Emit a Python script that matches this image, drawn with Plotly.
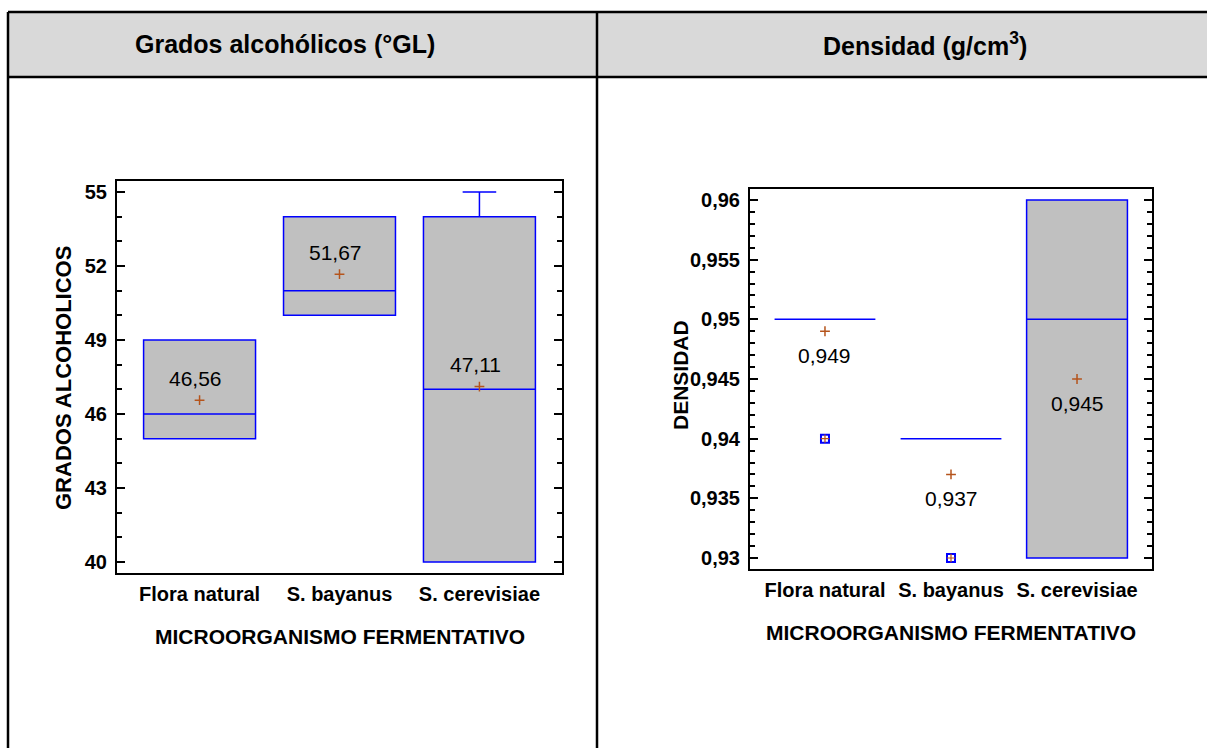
import plotly.graph_objects as go

# ---- data ----
categories = ["Flora natural", "S. bayanus", "S. cerevisiae"]

# Grados alcohólicos (°GL)
gl_min = [45, 50, 40]
gl_q1 = [45, 50, 40]
gl_median = [46, 51, 47]
gl_q3 = [49, 54, 54]
gl_max = [49, 54, 55]
gl_mean = [46.56, 51.67, 47.11]

# Densidad (g/cm3)
den_min = [0.95, 0.94, 0.93]
den_q1 = [0.95, 0.94, 0.93]
den_median = [0.95, 0.94, 0.95]
den_q3 = [0.95, 0.94, 0.96]
den_max = [0.95, 0.94, 0.96]
den_mean = [0.949, 0.937, 0.945]
den_out_cat = [0, 1]
den_out_val = [0.94, 0.93]

W, H = 1207, 748
FONT = "Arial, Liberation Sans, sans-serif"
BOX_FILL = "#c0c0c0"
BOX_LINE = "#0000ff"
MEAN_COL = "#b5541c"


def px_x(p):
    return p / W


def px_y(p):
    return 1 - p / H


fig = go.Figure()
xpos = list(range(len(categories)))

# left panel boxes
fig.add_trace(go.Box(
    x=xpos, q1=gl_q1, median=gl_median, q3=gl_q3,
    lowerfence=gl_min, upperfence=gl_max,
    width=0.8, whiskerwidth=0.3, boxpoints=False,
    fillcolor=BOX_FILL, line=dict(color=BOX_LINE, width=1.5),
    xaxis="x", yaxis="y", showlegend=False, hoverinfo="skip",
))
fig.add_trace(go.Scatter(
    x=xpos, y=gl_mean, mode="markers",
    marker=dict(symbol="cross-thin", size=7, line=dict(color=MEAN_COL, width=1.5)),
    xaxis="x", yaxis="y", showlegend=False, hoverinfo="skip",
))

# right panel boxes
fig.add_trace(go.Box(
    x=xpos, q1=den_q1, median=den_median, q3=den_q3,
    lowerfence=den_min, upperfence=den_max,
    width=0.8, whiskerwidth=0.3, boxpoints=False,
    fillcolor=BOX_FILL, line=dict(color=BOX_LINE, width=1.5),
    xaxis="x2", yaxis="y2", showlegend=False, hoverinfo="skip",
))
fig.add_trace(go.Scatter(
    x=den_out_cat, y=den_out_val, mode="markers",
    marker=dict(symbol="square-open", size=8, line=dict(color=BOX_LINE, width=2), color=BOX_LINE),
    xaxis="x2", yaxis="y2", showlegend=False, hoverinfo="skip",
))
fig.add_trace(go.Scatter(
    x=den_out_cat, y=den_out_val, mode="markers",
    marker=dict(symbol="cross-thin", size=6, line=dict(color=MEAN_COL, width=1.2)),
    xaxis="x2", yaxis="y2", showlegend=False, hoverinfo="skip",
))
fig.add_trace(go.Scatter(
    x=xpos, y=den_mean, mode="markers",
    marker=dict(symbol="cross-thin", size=7, line=dict(color=MEAN_COL, width=1.5)),
    xaxis="x2", yaxis="y2", showlegend=False, hoverinfo="skip",
))


def note(x, y, text, size, bold=True, angle=0):
    return dict(
        x=px_x(x), y=px_y(y), xref="paper", yref="paper", text=text,
        xanchor="center", yanchor="middle", textangle=angle, showarrow=False,
        font=dict(family=FONT, size=size, color="black", weight="bold" if bold else "normal"),
    )


annotations = []
for i, m in enumerate(gl_mean):
    annotations.append(dict(
        x=i, y=m, xref="x", yref="y", text=f"{m:.2f}".replace(".", ","),
        xanchor="center", yanchor="middle",
        showarrow=False, xshift=-4, yshift=22, font=dict(family=FONT, size=21, color="black"),
    ))
for i, m in enumerate(den_mean):
    annotations.append(dict(
        x=i, y=m, xref="x2", yref="y2", text=f"{m:.3f}".replace(".", ","),
        xanchor="center", yanchor="middle",
        showarrow=False, yshift=-24, font=dict(family=FONT, size=21, color="black"),
    ))

# axis titles and header cells
annotations += [
    note(63, 378, "GRADOS ALCOHOLICOS", 22, angle=-90),
    note(340, 636, "MICROORGANISMO FERMENTATIVO", 21),
    note(680, 375, "DENSIDAD", 21, angle=-90),
    note(951, 632, "MICROORGANISMO FERMENTATIVO", 21),
    note(285, 44, "Grados alcohólicos (°GL)", 25),
    note(925, 44, "Densidad (g/cm<sup>3</sup>)", 25),
]

# table frame
LW = 2.5
shapes = [
    dict(type="rect", xref="paper", yref="paper", x0=px_x(8), x1=1.05, y0=px_y(77), y1=px_y(12),
         fillcolor="#d9d9d9", line=dict(width=0), layer="below"),
    dict(type="line", xref="paper", yref="paper", x0=px_x(8), x1=1.05, y0=px_y(12), y1=px_y(12),
         line=dict(color="black", width=LW)),
    dict(type="line", xref="paper", yref="paper", x0=px_x(8), x1=1.05, y0=px_y(77), y1=px_y(77),
         line=dict(color="black", width=LW)),
    dict(type="line", xref="paper", yref="paper", x0=px_x(8), x1=px_x(8), y0=px_y(12), y1=-0.05,
         line=dict(color="black", width=LW)),
    dict(type="line", xref="paper", yref="paper", x0=px_x(597), x1=px_x(597), y0=px_y(12), y1=-0.05,
         line=dict(color="black", width=LW)),
]

tickfont = dict(family=FONT, size=20, color="black", weight="bold")
catfont = dict(family=FONT, size=20, color="black", weight="bold")

common_x = dict(
    tickvals=xpos, ticktext=categories, ticks="",
    showline=True, linecolor="black", linewidth=2, mirror=True,
    showgrid=False, zeroline=False, tickfont=catfont, ticklabelstandoff=2,
)
common_y = dict(
    ticks="inside", ticklen=8, tickwidth=1.5, tickcolor="black",
    showline=True, linecolor="black", linewidth=2, mirror="allticks",
    showgrid=False, zeroline=False, tickfont=tickfont, ticklabelstandoff=4,
)

fig.update_layout(
    width=W, height=H, margin=dict(l=0, r=0, t=0, b=0),
    paper_bgcolor="white", plot_bgcolor="white",
    separators=",.",
    boxmode="overlay",
    xaxis=dict(domain=[px_x(117), px_x(562)], range=[-0.59, 2.59], anchor="y", **common_x),
    yaxis=dict(domain=[px_y(573), px_y(181)], range=[39.554, 55.446], anchor="x",
               tickmode="linear", tick0=40, dtick=3,
               minor=dict(dtick=1, ticks="inside", ticklen=5, tickcolor="black", tickwidth=1.5),
               tickformat="d",
               **common_y),
    xaxis2=dict(domain=[px_x(750), px_x(1152)], range=[-0.595, 2.595], anchor="y2", **common_x),
    yaxis2=dict(domain=[px_y(569), px_y(189)], range=[0.929078, 0.960922], anchor="x2",
                tickmode="linear", tick0=0.93, dtick=0.005,
                minor=dict(dtick=0.001, ticks="inside", ticklen=5, tickcolor="black", tickwidth=1.5),
                **common_y),
    annotations=annotations,
    shapes=shapes,
)

fig.write_html("out.html")
